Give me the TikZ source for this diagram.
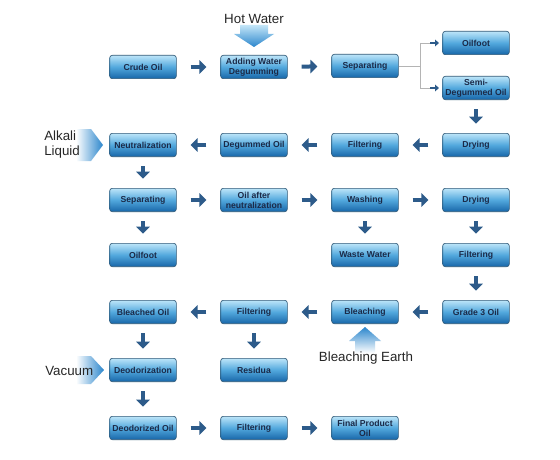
\documentclass[tikz,border=0pt]{standalone}
\usepackage{fontspec}
\setmainfont{Liberation Sans}
\usetikzlibrary{arrows.meta}
\definecolor{boxtop}{HTML}{BCE5F9}
\definecolor{boxmid}{HTML}{52A8DD}
\definecolor{boxbot}{HTML}{1766A8}
\definecolor{boxline}{HTML}{2E5877}
\definecolor{boxtext}{HTML}{1B2A48}
\definecolor{arr}{HTML}{2D5B8A}
\definecolor{bigtop}{HTML}{C4E6F8}
\definecolor{bigbot}{HTML}{2B86CC}
\definecolor{branchc}{HTML}{B4B4B4}
\definecolor{labc}{HTML}{262626}
\tikzset{
 pbox/.style={rounded corners=2pt, draw=boxline, line width=0.5pt,
   top color=boxtop, bottom color=boxbot, middle color=boxmid,
   minimum width=50pt, minimum height=17.5pt, inner sep=0pt, align=center,
   text=boxtext, font=\bfseries\fontsize{6.5}{7.6}\selectfont},
 harr/.style={line width=3pt, draw=arr, -{Triangle[width=10pt,length=5.2pt]},
   shorten <=10.5pt, shorten >=10.5pt},
 varr/.style={line width=3pt, draw=arr, -{Triangle[width=10pt,length=5.2pt]},
   shorten <=7pt, shorten >=7pt},
 branch/.style={draw=branchc, line width=0.6pt},
 smallarr/.style={line width=1.6pt, draw=arr, -{Triangle[width=5pt,length=3pt]},
   shorten >=2.5pt},
 biglab/.style={text=labc, font=\fontsize{10}{11.3}\selectfont, inner sep=0pt}
}
\begin{document}
\begin{tikzpicture}[x=0.75pt,y=-0.75pt]
\useasboundingbox (0,0) rectangle (560,460);
\fill[white] (0,0) rectangle (560,460);

% big gradient arrows
\shade[top color=bigtop, bottom color=bigbot]
  (240,25) -- (268,25) -- (268,34) -- (274,34) -- (254,47) -- (234,34) -- (240,34) -- cycle;
\shade[left color=white, right color=bigbot]
  (76,129) -- (91,129) -- (103,145) -- (91,161) -- (76,161) -- cycle;
\shade[left color=white, right color=bigbot]
  (76,356) -- (91,356) -- (104,370) -- (91,384) -- (76,384) -- cycle;
\shade[top color=bigbot, bottom color=white]
  (365,327) -- (381,341) -- (375,341) -- (375,353) -- (355,353) -- (355,341) -- (349,341) -- cycle;

% boxes
\node[pbox] (crude) at (143,67) {Crude Oil};
\node[pbox] (addw) at (254,67) {Adding Water\\Degumming};
\node[pbox] (sep1) at (365,66) {Separating};
\node[pbox] (of1) at (476,43) {Oilfoot};
\node[pbox] (semi) at (476,88) {Semi-\\Degummed Oil};
\node[pbox] (dry1) at (476,145) {Drying};
\node[pbox] (filt1) at (365,145) {Filtering};
\node[pbox] (degum) at (254,145) {Degummed Oil};
\node[pbox] (neut) at (143,145) {Neutralization};
\node[pbox] (sep2) at (143,200) {Separating};
\node[pbox] (oan) at (254,200) {Oil after\\neutralization};
\node[pbox] (wash) at (365,200) {Washing};
\node[pbox] (dry2) at (476,200) {Drying};
\node[pbox] (of2) at (143,255) {Oilfoot};
\node[pbox] (waste) at (365,255) {Waste Water};
\node[pbox] (filt2) at (476,255) {Filtering};
\node[pbox] (g3) at (476,312) {Grade 3 Oil};
\node[pbox] (bleach) at (365,312) {Bleaching};
\node[pbox] (filt3) at (254,312) {Filtering};
\node[pbox] (bleached) at (143,312) {Bleached Oil};
\node[pbox] (resid) at (254,370) {Residua};
\node[pbox] (deo) at (143,370) {Deodorization};
\node[pbox] (deoil) at (143,428) {Deodorized Oil};
\node[pbox] (filt4) at (254,428) {Filtering};
\node[pbox] (final) at (365,428) {Final Product\\Oil};

% labels
\node[biglab] (hot) at (254,19) {Hot Water};
\node[biglab, anchor=west, align=left] (alk) at (44,145) {Alkali\\Liquid};
\node[biglab, anchor=west] (vac) at (45,371) {Vacuum};
\node[biglab] (be) at (366,358) {Bleaching Earth};

% arrows
\draw[harr] (crude) -- (addw);
\draw[harr] (addw) -- (sep1);
\coordinate (br) at (420,66);
\draw[branch] (sep1.east) -- (br);
\draw[branch] (br |- of1.west) -- (br |- semi.west);
\draw[branch] (br |- of1.west) -- ++(10,0) coordinate (b1);
\draw[branch] (br |- semi.west) -- ++(10,0) coordinate (b2);
\draw[smallarr] (b1) -- (of1.west);
\draw[smallarr] (b2) -- (semi.west);
\draw[varr] (semi) -- (dry1);
\draw[harr] (dry1) -- (filt1);
\draw[harr] (filt1) -- (degum);
\draw[harr] (degum) -- (neut);
\draw[varr] (neut) -- (sep2);
\draw[harr] (sep2) -- (oan);
\draw[harr] (oan) -- (wash);
\draw[harr] (wash) -- (dry2);
\draw[varr] (sep2) -- (of2);
\draw[varr] (wash) -- (waste);
\draw[varr] (dry2) -- (filt2);
\draw[varr] (filt2) -- (g3);
\draw[harr] (g3) -- (bleach);
\draw[harr] (bleach) -- (filt3);
\draw[harr] (filt3) -- (bleached);
\draw[varr] (filt3) -- (resid);
\draw[varr] (bleached) -- (deo);
\draw[varr] (deo) -- (deoil);
\draw[harr] (deoil) -- (filt4);
\draw[harr] (filt4) -- (final);
\end{tikzpicture}
\end{document}
